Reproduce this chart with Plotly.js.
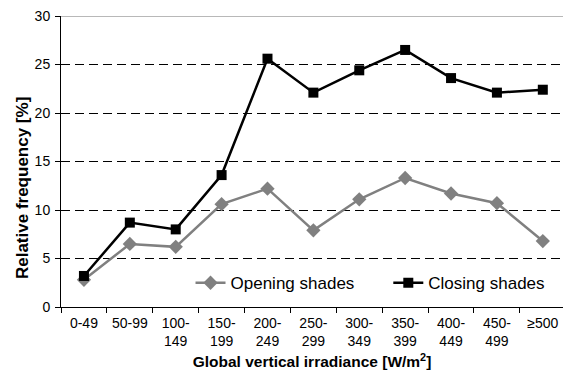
<!DOCTYPE html>
<html><head><meta charset="utf-8">
<script src="https://cdn.plot.ly/plotly-3.0.1.min.js"></script>
<style>html,body{margin:0;padding:0;background:#fff}#c{width:563px;height:371px}</style>
</head><body><div id="c"></div>
<script>
var categories = ["0-49","50-99","100-<br>149","150-<br>199","200-<br>249","250-<br>299","300-<br>349","350-<br>399","400-<br>449","450-<br>499","≥500"];
var openingShades = [2.8,6.5,6.2,10.6,12.2,7.9,11.1,13.3,11.7,10.7,6.8];
var closingShades = [3.2,8.7,8.0,13.6,25.6,22.1,24.4,26.5,23.6,22.1,22.4];
var yTicks = [0,5,10,15,20,25,30];

var font = "Liberation Sans, Arial, sans-serif";
var traces = [
  {x: categories, y: openingShades, name: "Opening shades", type: "scatter", mode: "lines+markers", legend: "legend",
   line: {color: "#808080", width: 2.5}, marker: {symbol: "diamond", size: 11, color: "#808080"}},
  {x: categories, y: closingShades, name: "Closing shades", type: "scatter", mode: "lines+markers", legend: "legend2",
   line: {color: "#000000", width: 2.5}, marker: {symbol: "square", size: 10, color: "#000000"}}
];
var legendBase = {orientation: "h", xanchor: "left", y: 0.02, yanchor: "bottom", itemwidth: 30,
  font: {family: font, size: 17, color: "#000"}, bgcolor: "rgba(0,0,0,0)"};
var layout = {
  width: 563, height: 371,
  margin: {l: 61, r: 0, t: 16, b: 64, autoexpand: false},
  paper_bgcolor: "#fff", plot_bgcolor: "#fff",
  font: {family: font, size: 14, color: "#000"},
  showlegend: true,
  legend: Object.assign({}, legendBase, {x: 0.258}),
  legend2: Object.assign({}, legendBase, {x: 0.652}),
  xaxis: {type: "category", tickson: "boundaries", ticks: "outside", ticklen: 5, tickcolor: "#000",
          showline: true, linecolor: "#000", linewidth: 1, showgrid: false, zeroline: false,
          ticklabelstandoff: 3, tickangle: 0,
          tickfont: {family: font, size: 14}, range: [-0.5, 10.44],
          title: {text: "<b>Global vertical irradiance [W/m<sup>2</sup>]</b>", font: {family: font, size: 15.5}, standoff: 8}},
  yaxis: {range: [0, 30], tickvals: yTicks, ticks: "outside", ticklen: 5, tickcolor: "#000",
          showline: true, linecolor: "#000", linewidth: 1, zeroline: false,
          showgrid: true, gridcolor: "#000", griddash: "9px,5px", gridwidth: 1,
          ticklabelstandoff: 2,
          tickfont: {family: font, size: 14}},
  annotations: [{text: "<b>Relative frequency [%]</b>", textangle: -90, xref: "paper", yref: "paper",
                 x: -0.077, y: 0.41, xanchor: "center", yanchor: "middle", showarrow: false,
                 font: {family: font, size: 17, color: "#000"}}],
  shapes: [{type: "line", xref: "paper", yref: "y", x0: 0, x1: 1, y0: 30, y1: 30, line: {color: "#a0a0a0", width: 1.5}}]
};
Plotly.newPlot("c", traces, layout, {displayModeBar: false, staticPlot: true});
</script></body></html>
